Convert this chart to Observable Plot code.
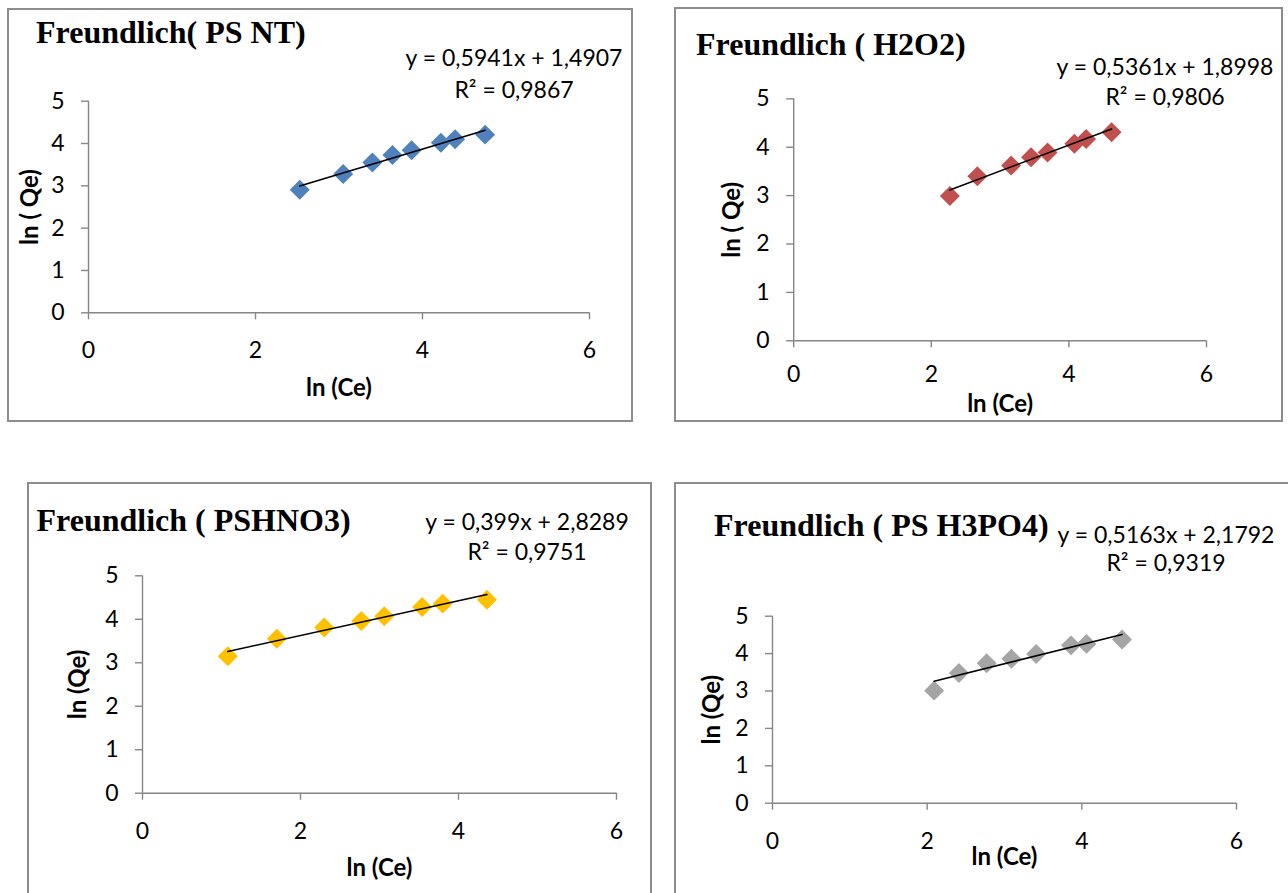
<!DOCTYPE html>
<html><head><meta charset="utf-8">
<script src="https://cdn.jsdelivr.net/npm/d3@7"></script>
<script src="https://cdn.jsdelivr.net/npm/@observablehq/plot@0.6"></script>
<style>
html,body{margin:0;padding:0;background:#fff;}
#root{position:relative;width:1288px;height:893px;overflow:hidden;background:#fff;}
.panel{position:absolute;}
.panel svg{position:absolute;left:0;top:0;max-width:none;background:transparent;}
.frame{position:absolute;left:0;top:0;box-sizing:border-box;border:2px solid #8c8c8c;pointer-events:none;}
.title{position:absolute;white-space:nowrap;font-family:"Liberation Serif",serif;font-weight:bold;font-size:32px;line-height:32px;color:#000;}
.eq{position:absolute;white-space:nowrap;font-family:Lato,sans-serif;font-size:23px;line-height:23px;transform:translateX(-50%);color:#000;}
g[aria-label="x-axis label"] text, g[aria-label="y-axis label"] text{font-weight:bold;font-size:24px;}
</style></head>
<body><div id="root"></div>
<script>
// ---- data ----
const titles = ["Freundlich( PS NT)", "Freundlich ( H2O2)", "Freundlich ( PSHNO3)", "Freundlich ( PS H3PO4)"];
const xLabel = "ln (Ce)";
const yLabels = ["ln ( Qe)", "ln ( Qe)", "ln (Qe)", "ln (Qe)"];
const xTicks = [0, 2, 4, 6];
const yTicks = [0, 1, 2, 3, 4, 5];

const psnt_x = [2.53, 3.05, 3.40, 3.64, 3.87, 4.22, 4.39, 4.75];
const psnt_y = [2.91, 3.28, 3.55, 3.73, 3.84, 4.02, 4.10, 4.21];

const h2o2_x = [2.27, 2.67, 3.16, 3.45, 3.69, 4.08, 4.25, 4.62];
const h2o2_y = [2.99, 3.40, 3.62, 3.79, 3.89, 4.07, 4.17, 4.31];

const hno3_x = [1.08, 1.70, 2.30, 2.77, 3.06, 3.54, 3.80, 4.36];
const hno3_y = [3.15, 3.55, 3.81, 3.96, 4.07, 4.28, 4.36, 4.45];

const h3po4_x = [2.09, 2.41, 2.77, 3.09, 3.41, 3.86, 4.06, 4.52];
const h3po4_y = [3.01, 3.48, 3.74, 3.86, 3.99, 4.22, 4.26, 4.38];

const slopes = [0.5941, 0.5361, 0.399, 0.5163];
const intercepts = [1.4907, 1.8998, 2.8289, 2.1792];
const eqTexts = ["y = 0,5941x + 1,4907", "y = 0,5361x + 1,8998", "y = 0,399x + 2,8289", "y = 0,5163x + 2,1792"];
const r2Texts = ["R² = 0,9867", "R² = 0,9806", "R² = 0,9751", "R² = 0,9319"];

const seriesX = [psnt_x, h2o2_x, hno3_x, h3po4_x];
const seriesY = [psnt_y, h2o2_y, hno3_y, h3po4_y];
const colors = ["#4F81BD", "#C0504D", "#FFC000", "#A5A5A5"];

// ---- layout ----
const layout = [
  {left:7, top:8, w:626, h:414, fw:626, fh:414, mL:81, mR:44, mT:92.7, mB:109.7, yOff:67.8, xOff:82.7, xPad:21.5, tX:29, tB:34.7, eX:507, eB1:58.7, eB2:90.3},
  {left:674, top:7, w:609, h:415, fw:609, fh:415, mL:119.2, mR:77, mT:91.3, mB:81.7, yOff:71, xOff:71.4, xPad:18, tX:22, tB:48, eX:491, eB1:68, eB2:98},
  {left:27, top:482, w:625, h:411, fw:625, fh:430, mL:115, mR:36, mT:93.3, mB:100.3, yOff:73.8, xOff:82.3, xPad:22, tX:9.5, tB:49, eX:500, eB1:48, eB2:78},
  {left:674, top:482, w:614, h:411, fw:630, fh:430, mL:98, mR:52, mT:133.7, mB:90.3, yOff:69.8, xOff:61.3, xPad:22, tX:40, tB:54, eX:492, eB1:61.3, eB2:89.7}
];

const gray = "#868686";
const root = document.getElementById("root");

layout.forEach((L, i) => {
  const xs = seriesX[i], ys = seriesY[i];
  const pts = xs.map((x, j) => ({x, y: ys[j]}));
  const ends = d3.extent(xs).map(x => ({x, y: slopes[i] * x + intercepts[i]}));

  const plot = Plot.plot({
    width: L.w, height: L.h,
    marginLeft: L.mL, marginRight: L.mR, marginTop: L.mT, marginBottom: L.mB,
    x: {domain: [0, 6]},
    y: {domain: [0, 5]},
    style: {fontFamily: "Lato, sans-serif", fontSize: "23px", color: "#000", background: "transparent", overflow: "visible"},
    marks: [
      Plot.ruleX([0], {stroke: gray, strokeWidth: 1.4}),
      Plot.ruleY([0], {stroke: gray, strokeWidth: 1.4}),
      Plot.axisX({ticks: xTicks, tickSize: 7, tickPadding: L.xPad, stroke: gray, strokeWidth: 1.4, fill: "#000",
        tickFormat: d => String(d), label: xLabel, labelAnchor: "center", labelOffset: L.xOff, labelArrow: "none"}),
      Plot.axisY({ticks: yTicks, tickSize: 7, tickPadding: 17, stroke: gray, strokeWidth: 1.4, fill: "#000",
        tickFormat: d => String(d), label: yLabels[i], labelAnchor: "center", labelOffset: L.yOff, labelArrow: "none"}),
      Plot.dot(pts, {x: "x", y: "y", symbol: "diamond2", r: 9, fill: colors[i], stroke: "none"}),
      Plot.line(ends, {x: "x", y: "y", stroke: "#000", strokeWidth: 1.6})
    ]
  });

  const panel = document.createElement("div");
  panel.className = "panel";
  panel.style.left = L.left + "px";
  panel.style.top = L.top + "px";
  panel.style.width = L.fw + "px";
  panel.style.height = L.fh + "px";
  panel.appendChild(plot);

  const t = document.createElement("div");
  t.className = "title";
  t.textContent = titles[i];
  t.style.left = L.tX + "px";
  t.style.top = (L.tB - 0.8375 * 32) + "px";
  panel.appendChild(t);

  [[eqTexts[i], L.eB1], [r2Texts[i], L.eB2]].forEach(([txt, b]) => {
    const e = document.createElement("div");
    e.className = "eq";
    e.textContent = txt;
    e.style.left = L.eX + "px";
    e.style.top = (b - 0.887 * 23) + "px";
    panel.appendChild(e);
  });

  const f = document.createElement("div");
  f.className = "frame";
  f.style.width = L.fw + "px";
  f.style.height = L.fh + "px";
  panel.appendChild(f);

  root.appendChild(panel);
});
</script>
</body></html>
